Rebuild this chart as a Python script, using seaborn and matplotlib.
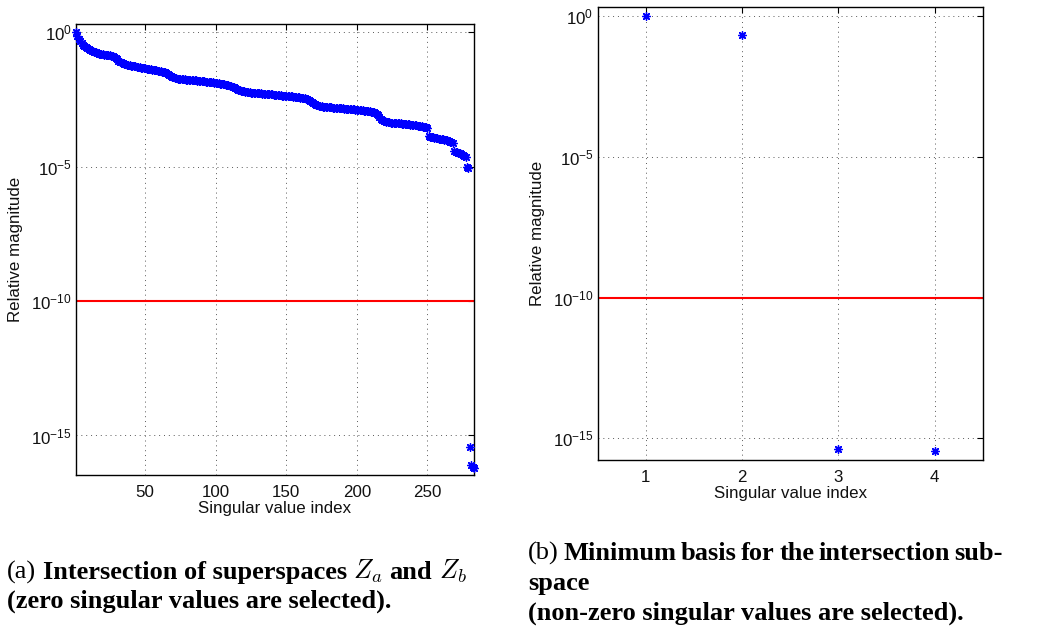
import numpy as np
import matplotlib
matplotlib.use("Agg")
import matplotlib.pyplot as plt
import seaborn as sns
from matplotlib.ticker import FixedLocator, NullLocator, FixedFormatter
from matplotlib.transforms import IdentityTransform

# ---------------- data (log10 of relative singular values) ----------------
sv_a_log10 = [
    0.00, -0.15, -0.27, -0.35, -0.42, -0.47, -0.52, -0.56, -0.60, -0.63,
    -0.66, -0.69, -0.72, -0.74, -0.76, -0.78, -0.80, -0.81, -0.82, -0.83,
    -0.84, -0.85, -0.86, -0.86, -0.87, -0.88, -0.89, -0.91, -0.95, -1.01,
    -1.06, -1.10, -1.13, -1.16, -1.18, -1.20, -1.21, -1.22, -1.24, -1.25,
    -1.26, -1.27, -1.28, -1.29, -1.30, -1.31, -1.32, -1.33, -1.34, -1.35,
    -1.36, -1.37, -1.38, -1.39, -1.40, -1.41, -1.42, -1.43, -1.44, -1.45,
    -1.46, -1.47, -1.48, -1.50, -1.52, -1.55, -1.58, -1.62, -1.66, -1.69,
    -1.71, -1.72, -1.73, -1.74, -1.75, -1.75, -1.76, -1.76, -1.77, -1.77,
    -1.78, -1.78, -1.79, -1.79, -1.80, -1.80, -1.81, -1.81, -1.82, -1.82,
    -1.83, -1.83, -1.84, -1.84, -1.85, -1.85, -1.86, -1.87, -1.88, -1.89,
    -1.90, -1.91, -1.92, -1.93, -1.94, -1.95, -1.96, -1.97, -1.98, -2.00,
    -2.01, -2.03, -2.05, -2.08, -2.11, -2.14, -2.16, -2.18, -2.20, -2.21,
    -2.22, -2.23, -2.24, -2.24, -2.25, -2.25, -2.26, -2.26, -2.27, -2.27,
    -2.28, -2.28, -2.29, -2.29, -2.30, -2.30, -2.31, -2.31, -2.32, -2.32,
    -2.33, -2.33, -2.34, -2.34, -2.35, -2.35, -2.36, -2.36, -2.37, -2.37,
    -2.38, -2.38, -2.39, -2.39, -2.40, -2.41, -2.41, -2.42, -2.43, -2.44,
    -2.45, -2.46, -2.47, -2.48, -2.50, -2.52, -2.55, -2.59, -2.63, -2.67,
    -2.70, -2.72, -2.74, -2.75, -2.76, -2.77, -2.78, -2.78, -2.79, -2.79,
    -2.80, -2.80, -2.81, -2.81, -2.82, -2.82, -2.83, -2.83, -2.84, -2.84,
    -2.85, -2.85, -2.86, -2.86, -2.87, -2.87, -2.88, -2.88, -2.89, -2.89,
    -2.90, -2.90, -2.91, -2.91, -2.92, -2.92, -2.93, -2.94, -2.95, -2.96,
    -2.97, -2.98, -3.00, -3.04, -3.10, -3.17, -3.23, -3.27, -3.30, -3.32,
    -3.34, -3.35, -3.36, -3.37, -3.37, -3.38, -3.38, -3.39, -3.39, -3.40,
    -3.40, -3.41, -3.41, -3.42, -3.42, -3.43, -3.43, -3.44, -3.45, -3.46,
    -3.46, -3.47, -3.48, -3.49, -3.50, -3.51, -3.52, -3.53, -3.54, -3.55,
    -3.87, -3.89, -3.91, -3.92, -3.93, -3.94, -3.95, -3.96, -3.97, -3.98,
    -3.99, -4.00, -4.01, -4.03, -4.05, -4.07, -4.09, -4.12, -4.42, -4.45,
    -4.47, -4.49, -4.51, -4.54, -4.57, -4.61, -4.66, -5.00, -5.05, -15.44,
    -16.10, -16.18, -16.22,
]
sv_b_log10 = [0.00, -0.67, -15.37, -15.45]
threshold = 1e-10

xticks_a = [50, 100, 150, 200, 250]
xticks_b = [1, 2, 3, 4]
ytick_vals = [1e0, 1e-5, 1e-10, 1e-15]
ytick_labels = [r"$\mathregular{10^{0}}$", r"$\mathregular{10^{-5}}$",
                r"$\mathregular{10^{-10}}$", r"$\mathregular{10^{-15}}$"]
xlabel_text = "Singular value index"
ylabel_text = "Relative magnitude"

# ---------------- style ----------------
sns.set_theme(style="white")
plt.rcParams["font.family"] = ["Liberation Sans", "DejaVu Sans"]
plt.rcParams["mathtext.fontset"] = "custom"
plt.rcParams["mathtext.rm"] = "Liberation Sans"
plt.rcParams["mathtext.it"] = "Liberation Sans:italic"
plt.rcParams["mathtext.bf"] = "Liberation Sans:bold"

W, H = 1053, 628
fig = plt.figure(figsize=(W / 100, H / 100), dpi=100)

def px_axes(x0, y0, x1, y1):
    return fig.add_axes([x0 / W, 1 - y1 / H, (x1 - x0) / W, (y1 - y0) / H])

ax_a = px_axes(76, 23.7, 474, 475)
ax_b = px_axes(597.7, 7.3, 982.7, 460)

star = (8, 2, 0)
FS = 12.2

def style_axes(ax, xticks, xlim, ylim_exp):
    ax.set_yscale("log")
    ax.set_xlim(*xlim)
    ax.set_ylim(10 ** ylim_exp[0], 10 ** ylim_exp[1])
    ax.xaxis.set_major_locator(FixedLocator(xticks))
    ax.xaxis.set_minor_locator(NullLocator())
    ax.yaxis.set_major_locator(FixedLocator(ytick_vals))
    ax.yaxis.set_major_formatter(FixedFormatter(ytick_labels))
    ax.yaxis.set_minor_locator(NullLocator())
    ax.grid(True, which="major", color="0.35", linestyle=(0, (1, 4)), linewidth=0.7)
    ax.tick_params(which="both", direction="in", top=True, right=True,
                   length=4, width=0.8, color="black", labelsize=FS, labelcolor="#111111")
    ax.tick_params(axis="x", pad=7)
    ax.tick_params(axis="y", pad=3)
    for s in ax.spines.values():
        s.set_color("black")
        s.set_linewidth(1.0)
    ax.set_xlabel(xlabel_text, fontsize=FS, color="#111111", labelpad=1)
    ax.set_ylabel(ylabel_text, fontsize=FS, color="#111111", labelpad=6)

# left panel
idx_a = np.arange(1, len(sv_a_log10) + 1)
vals_a = 10.0 ** np.array(sv_a_log10)
sns.scatterplot(x=idx_a, y=vals_a, marker=star, color="blue", s=30, linewidth=1.0,
                ax=ax_a, legend=False, clip_on=False, zorder=3)
ax_a.axhline(threshold, color="red", linewidth=1.5, zorder=2)
style_axes(ax_a, xticks_a, (1, 283), (-16.47, 0.31))

# right panel
idx_b = np.arange(1, len(sv_b_log10) + 1)
vals_b = 10.0 ** np.array(sv_b_log10)
sns.scatterplot(x=idx_b, y=vals_b, marker=star, color="blue", s=30, linewidth=1.0,
                ax=ax_b, legend=False, clip_on=False, zorder=3)
ax_b.axhline(threshold, color="red", linewidth=1.5, zorder=2)
style_axes(ax_b, xticks_b, (0.5, 4.5), (-15.77, 0.31))

# ---------------- captions ----------------
CFS = 19
renderer = fig.canvas.get_renderer()
SPACE = 0.25 * CFS * 100 / 72

def make_text(s, kind):
    kw = dict(fontsize=CFS, transform=IdentityTransform(), color="black",
              va="baseline", ha="left")
    if kind == "math":
        t = fig.text(0, 0, s, math_fontfamily="cm", **kw)
    else:
        t = fig.text(0, 0, s, family=["Liberation Serif", "DejaVu Serif"],
                     fontweight=("bold" if kind == "bold" else "normal"), **kw)
    return t

def place_runs(runs, x0, y_base, x1=None):
    texts = [make_text(s, k) for s, k in runs]
    widths = [t.get_window_extent(renderer).width for t in texts]
    space = SPACE
    if x1 is not None and len(texts) > 1:
        space = (x1 - x0 - sum(widths)) / (len(texts) - 1)
    x = x0
    for t, w in zip(texts, widths):
        t.set_position((x, H - y_base))
        x += w + space

place_runs([("(a)", "normal"), ("Intersection of superspaces", "bold"),
            ("$Z_a$", "math"), ("and", "bold"), ("$Z_b$", "math")], 7, 579)
place_runs([("(zero singular values are selected).", "bold")], 7, 608)

place_runs([("(b)", "normal"), ("Minimum", "bold"), ("basis", "bold"),
            ("for", "bold"), ("the", "bold"), ("intersection", "bold"),
            ("sub-", "bold")], 528, 560, x1=1003)
place_runs([("space", "bold")], 528, 590)
place_runs([("(non-zero singular values are selected).", "bold")], 528, 620)

fig.savefig("out.png", dpi=100)
